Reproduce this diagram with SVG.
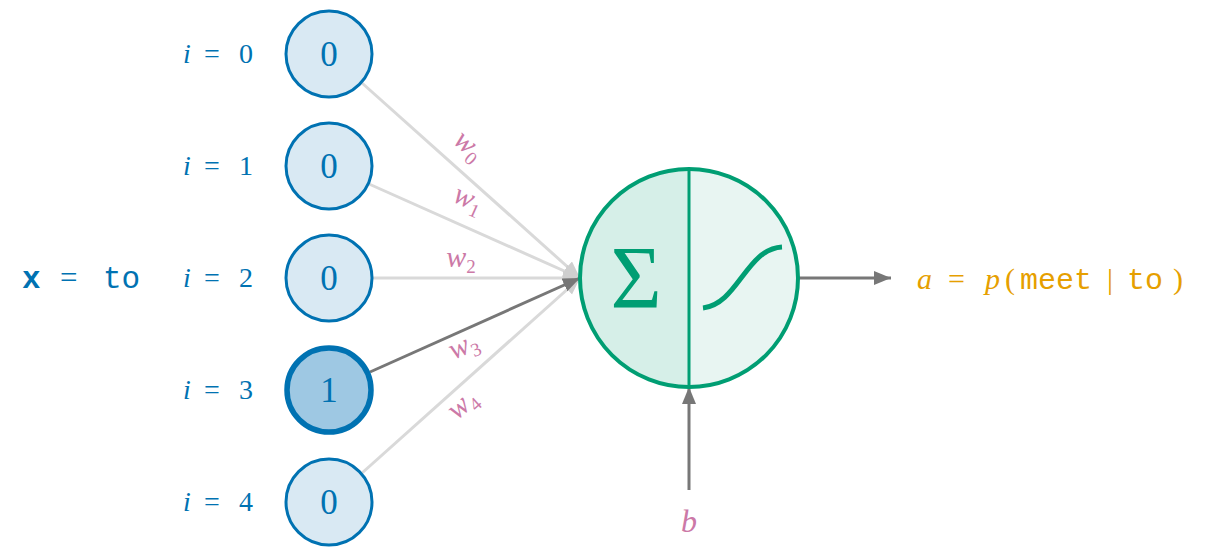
<svg xmlns="http://www.w3.org/2000/svg" width="1210" height="557" viewBox="0 0 1210 557">
<style>
.node{fill:#d9e9f3;stroke:#0072B2;stroke-width:3}
.node.on{fill:#9ec8e3;stroke-width:5.5}
.num{font-family:"Liberation Serif","DejaVu Serif",serif;font-size:35px;fill:#0072B2;text-anchor:middle}
.idx{font-family:"Liberation Serif","DejaVu Serif",serif;font-size:28px;fill:#0072B2}
.it{font-style:italic}
.w{font-family:"Liberation Serif","DejaVu Serif",serif;font-size:30px;fill:#CC79A7;text-anchor:middle;font-style:italic}
.sub{font-size:19px;font-style:normal}
.mono{font-family:"Liberation Mono","DejaVu Sans Mono",monospace}
.conn-light{stroke:#d9d9d9;stroke-width:3;fill:none}
.conn-dark{stroke:#777777;stroke-width:3;fill:none}
</style>
<defs>
<marker id="ahL" markerUnits="userSpaceOnUse" markerWidth="20" markerHeight="16" refX="17" refY="7" orient="auto"><path d="M0,0 L17,7 L0,14 Z" fill="#cfcfcf"/></marker>
<marker id="ahD" markerUnits="userSpaceOnUse" markerWidth="20" markerHeight="16" refX="17" refY="7" orient="auto"><path d="M0,0 L17,7 L0,14 Z" fill="#777777"/></marker>
</defs>
<rect width="1210" height="557" fill="#ffffff"/>

<g id="connectors">
<line class="conn-light" x1="362" y1="83" x2="580" y2="278" marker-end="url(#ahL)"/>
<line class="conn-light" x1="369" y1="184" x2="580" y2="278" marker-end="url(#ahL)"/>
<line class="conn-light" x1="373" y1="278" x2="580" y2="278" marker-end="url(#ahL)"/>
<line class="conn-light" x1="362" y1="473" x2="580" y2="278" marker-end="url(#ahL)"/>
<line class="conn-dark" x1="370" y1="372" x2="580" y2="278" marker-end="url(#ahD)"/>
<line class="conn-dark" x1="799" y1="278" x2="891" y2="278" marker-end="url(#ahD)"/>
<line class="conn-dark" x1="689" y1="490" x2="689" y2="387" marker-end="url(#ahD)"/>
<text class="w" transform="translate(463,152) rotate(41.7)">w<tspan class="sub" dy="6">0</tspan></text>
<text class="w" transform="translate(465,207) rotate(24)">w<tspan class="sub" dy="6">1</tspan></text>
<text class="w" x="461" y="267">w<tspan class="sub" dy="6">2</tspan></text>
<text class="w" transform="translate(467,354) rotate(-24)">w<tspan class="sub" dy="6">3</tspan></text>
<text class="w" transform="translate(468,411) rotate(-41.7)">w<tspan class="sub" dy="6">4</tspan></text>
</g>

<g id="label-x">
<text y="288" font-size="31" fill="#0072B2"><tspan class="mono" x="22" font-weight="bold">x</tspan><tspan x="60" font-family="Liberation Serif, DejaVu Serif, serif">=</tspan><tspan class="mono" x="103">to</tspan></text>
</g>

<g id="x0">
<text class="idx" y="63"><tspan class="it" x="183">i</tspan><tspan x="204">=</tspan><tspan x="239">0</tspan></text>
<circle class="node" cx="329" cy="54" r="43"/>
<text class="num" x="329" y="66">0</text>
</g>
<g id="x1">
<text class="idx" y="175"><tspan class="it" x="183">i</tspan><tspan x="204">=</tspan><tspan x="239">1</tspan></text>
<circle class="node" cx="329" cy="166" r="43"/>
<text class="num" x="329" y="178">0</text>
</g>
<g id="x2">
<text class="idx" y="287"><tspan class="it" x="183">i</tspan><tspan x="204">=</tspan><tspan x="239">2</tspan></text>
<circle class="node" cx="329" cy="278" r="43"/>
<text class="num" x="329" y="290">0</text>
</g>
<g id="x3">
<text class="idx" y="399"><tspan class="it" x="183">i</tspan><tspan x="204">=</tspan><tspan x="239">3</tspan></text>
<circle class="node on" cx="329" cy="390" r="42"/>
<text class="num" x="329" y="402">1</text>
</g>
<g id="x4">
<text class="idx" y="511"><tspan class="it" x="183">i</tspan><tspan x="204">=</tspan><tspan x="239">4</tspan></text>
<circle class="node" cx="329" cy="502" r="43"/>
<text class="num" x="329" y="514">0</text>
</g>

<g id="neuron">
<path d="M689,169 A109,109 0 0 0 689,387 Z" fill="#d6efe8"/>
<path d="M689,169 A109,109 0 0 1 689,387 Z" fill="#e8f5f2"/>
<circle cx="689" cy="278" r="109" fill="none" stroke="#009E73" stroke-width="4"/>
<line x1="689" y1="169" x2="689" y2="387" stroke="#009E73" stroke-width="3"/>
<text x="636" y="307" font-family="Liberation Serif, DejaVu Serif, serif" font-size="88" fill="#009E73" text-anchor="middle">Σ</text>
<path d="M703,308 C738,304 746,249 782,247" fill="none" stroke="#009E73" stroke-width="5"/>
</g>

<g id="bias">
<text x="689" y="532" font-family="Liberation Serif, DejaVu Serif, serif" font-size="32" font-style="italic" fill="#CC79A7" text-anchor="middle">b</text>
</g>

<g id="output">
<text y="289" font-size="30" fill="#E69F00" font-family="Liberation Serif, DejaVu Serif, serif"><tspan x="917" font-style="italic">a</tspan><tspan x="948">=</tspan><tspan x="985" font-style="italic">p</tspan><tspan x="1005">(</tspan><tspan class="mono" x="1020">meet</tspan><tspan x="1107">|</tspan><tspan class="mono" x="1127">to</tspan><tspan x="1173">)</tspan></text>
</g>
</svg>
